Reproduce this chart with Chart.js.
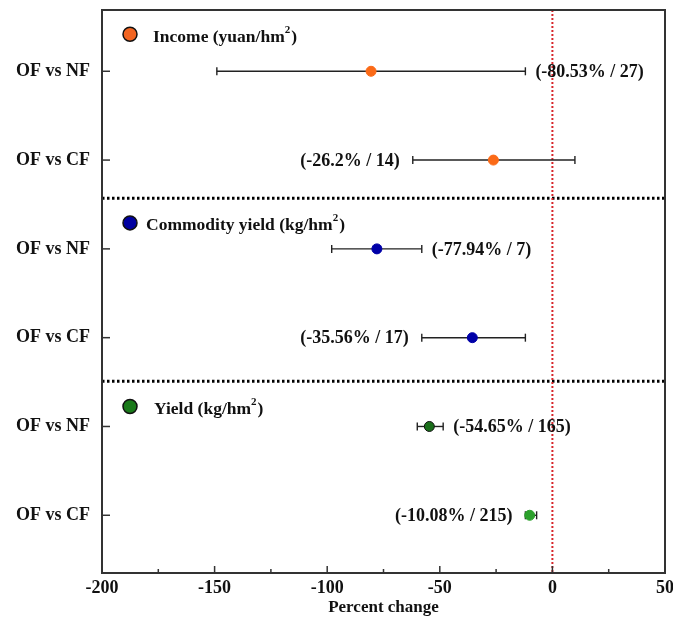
<!DOCTYPE html>
<html>
<head>
<meta charset="utf-8">
<script src="https://cdn.jsdelivr.net/npm/chart.js@4"></script>
<style>
html, body { margin: 0; padding: 0; background: #fff; }
#wrap { width: 673px; height: 620px; }
</style>
</head>
<body>
<div id="wrap"><canvas id="forestChart"></canvas></div>
<script>
// Data
const comparisons = ['OF vs NF', 'OF vs CF', 'OF vs NF', 'OF vs CF', 'OF vs NF', 'OF vs CF'];
const groupNames = ['Income (yuan/hm²)', 'Commodity yield (kg/hm²)', 'Yield (kg/hm²)'];
const meanChange = [-80.53, -26.2, -77.94, -35.56, -54.65, -10.08];
const ciLow = [-149, -62, -98, -58, -60, -12];
const ciHigh = [-12, 10, -58, -12, -48.5, -7];
const sampleSize = [27, 14, 7, 17, 165, 215];
const xTicks = [-200, -150, -100, -50, 0, 50];

// Styling
const FONT = 'Liberation Serif, Times New Roman, serif';
const pointFill = ['#fb6a17', '#fb6a17', '#0000a8', '#0000a8', '#1a6e1a', '#2ca02c'];
const pointEdge = ['#fb6a17', '#fb6a17', '#0000a8', '#0000a8', '#111111', '#2ca02c'];
const groupColor = ['#f26522', '#0000a0', '#1a7a1a'];
const labelSide = ['right', 'left', 'right', 'left', 'right', 'left'];

function line(ctx, x1, y1, x2, y2) {
    ctx.beginPath();
    ctx.moveTo(x1, y1);
    ctx.lineTo(x2, y2);
    ctx.stroke();
}

// draws "text²)" with a raised 2
function drawSupText(ctx, str, x, y, size) {
    const parts = str.split('²');
    ctx.font = 'bold ' + size + 'px ' + FONT;
    ctx.fillText(parts[0], x, y);
    let cx = x + ctx.measureText(parts[0]).width;
    if (parts.length > 1) {
        ctx.font = 'bold ' + Math.round(size * 0.62) + 'px ' + FONT;
        ctx.fillText('2', cx, y - size * 0.42);
        cx += ctx.measureText('2').width + 1;
        ctx.font = 'bold ' + size + 'px ' + FONT;
        ctx.fillText(parts[1], cx, y);
    }
}

const forestPlugin = {
    id: 'forestPlugin',
    beforeDatasetsDraw(chart) {
        const { ctx, chartArea: a, scales: { x, y } } = chart;
        ctx.save();
        // group separators
        ctx.strokeStyle = '#000';
        ctx.lineWidth = 3;
        ctx.setLineDash([2.5, 2.5]);
        [1.43, 3.49].forEach(v => {
            const py = y.getPixelForValue(v);
            line(ctx, a.left, py, a.right, py);
        });
        // zero reference line
        ctx.strokeStyle = '#d8262b';
        ctx.lineWidth = 2;
        ctx.setLineDash([2, 2]);
        const x0 = x.getPixelForValue(0);
        line(ctx, x0, a.top, x0, a.bottom);
        // error bars
        ctx.setLineDash([]);
        ctx.strokeStyle = '#222';
        ctx.lineWidth = 1.4;
        meanChange.forEach((m, i) => {
            const py = y.getPixelForValue(i);
            const x1 = x.getPixelForValue(ciLow[i]);
            const x2 = x.getPixelForValue(ciHigh[i]);
            line(ctx, x1, py, x2, py);
            line(ctx, x1, py - 4, x1, py + 4);
            line(ctx, x2, py - 4, x2, py + 4);
        });
        ctx.restore();
    },
    afterDatasetsDraw(chart) {
        const { ctx, chartArea: a, scales: { x, y } } = chart;
        ctx.save();
        // value labels
        ctx.fillStyle = '#111';
        ctx.font = 'bold 18px ' + FONT;
        ctx.textBaseline = 'middle';
        meanChange.forEach((m, i) => {
            const py = y.getPixelForValue(i);
            const txt = '(' + m + '% / ' + sampleSize[i] + ')';
            if (labelSide[i] === 'right') {
                ctx.textAlign = 'left';
                ctx.fillText(txt, x.getPixelForValue(ciHigh[i]) + 10, py + 1);
            } else {
                ctx.textAlign = 'right';
                ctx.fillText(txt, x.getPixelForValue(ciLow[i]) - 13, py + 1);
            }
        });
        // in-plot group legends
        const legendDy = [-37, -26, -20];
        const legendTextX = [153, 146, 154];
        groupNames.forEach((g, k) => {
            const py = y.getPixelForValue(k * 2) + legendDy[k];
            ctx.beginPath();
            ctx.arc(a.left + 28, py, 7, 0, Math.PI * 2);
            ctx.fillStyle = groupColor[k];
            ctx.fill();
            ctx.lineWidth = 1.5;
            ctx.strokeStyle = '#111';
            ctx.stroke();
            ctx.fillStyle = '#111';
            ctx.textAlign = 'left';
            ctx.textBaseline = 'middle';
            drawSupText(ctx, g, legendTextX[k], py + 3, 17.5);
        });
        // frame
        ctx.strokeStyle = '#333';
        ctx.lineWidth = 2;
        ctx.strokeRect(a.left, a.top, a.right - a.left, a.bottom - a.top);
        // inward ticks
        ctx.lineWidth = 1.5;
        comparisons.forEach((c, i) => {
            const py = y.getPixelForValue(i);
            line(ctx, a.left, py, a.left + 8, py);
        });
        xTicks.forEach((t, i) => {
            const px = x.getPixelForValue(t);
            line(ctx, px, a.bottom, px, a.bottom - 7);
            if (i < xTicks.length - 1) {
                const pm = x.getPixelForValue(t + 25);
                line(ctx, pm, a.bottom, pm, a.bottom - 4);
            }
        });
        ctx.restore();
    }
};

function initForestChart() {
    const ctx = document.getElementById('forestChart').getContext('2d');
    new Chart(ctx, {
        type: 'scatter',
        data: {
            datasets: [{
                data: meanChange.map((m, i) => ({ x: m, y: i })),
                pointRadius: 5,
                pointBackgroundColor: pointFill,
                pointBorderColor: pointEdge,
                pointBorderWidth: 1
            }]
        },
        options: {
            responsive: true,
            maintainAspectRatio: false,
            animation: false,
            layout: { padding: { left: 0, right: 8, top: 10, bottom: 0 } },
            plugins: {
                legend: { display: false },
                tooltip: { enabled: false }
            },
            scales: {
                x: {
                    type: 'linear',
                    min: -200,
                    max: 50,
                    afterBuildTicks: s => { s.ticks = xTicks.map(v => ({ value: v })); },
                    grid: { display: false, drawTicks: false },
                    border: { display: false },
                    ticks: {
                        color: '#111',
                        padding: 5,
                        maxRotation: 0,
                        font: { family: FONT, size: 18, weight: 'bold' }
                    },
                    title: {
                        display: true,
                        text: 'Percent change',
                        color: '#111',
                        padding: { top: 0, bottom: 2 },
                        font: { family: FONT, size: 17, weight: 'bold' }
                    },
                    afterFit: s => {
                        s.height = 47;
                        s.paddingLeft = 0;
                        s.paddingRight = 0;
                    }
                },
                y: {
                    type: 'linear',
                    reverse: true,
                    min: -0.69,
                    max: 5.65,
                    afterBuildTicks: s => { s.ticks = comparisons.map((c, i) => ({ value: i })); },
                    grid: { display: false, drawTicks: false },
                    border: { display: false },
                    ticks: {
                        color: '#111',
                        padding: 12,
                        callback: v => comparisons[v],
                        font: { family: FONT, size: 18, weight: 'bold' }
                    },
                    afterFit: s => {
                        s.width = 102;
                        s.paddingTop = 0;
                        s.paddingBottom = 0;
                    }
                }
            }
        },
        plugins: [forestPlugin]
    });
}

window.addEventListener('load', initForestChart);
</script>
</body>
</html>
